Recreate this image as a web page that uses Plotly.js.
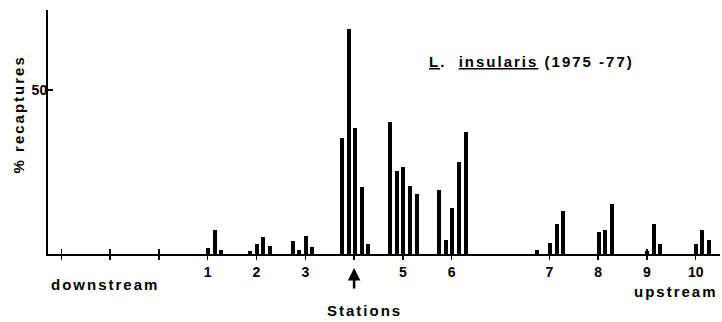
<!DOCTYPE html>
<html>
<head>
<meta charset="utf-8">
<script src="https://cdn.plot.ly/plotly-3.0.1.min.js"></script>
<style>
  html, body { margin: 0; padding: 0; background: #fff; }
  #chart { width: 722px; height: 322px; }
  #chart .annotation-text { letter-spacing: 2px; }
</style>
</head>
<body>
<div id="chart"></div>
<script>
// Axis positions of the stations (gap between station 6 and 7)
const tickPositions = [-2, -1, 0, 1, 2, 3, 4, 5, 6, 8, 9, 10, 11];
const tickLabels    = ['', '', '', '1', '2', '3', '', '5', '6', '7', '8', '9', '10'];

// Recapture bars: position along the stream axis and % recaptures
const barX = [
  1.000, 1.150, 1.273,
  1.867, 2.010, 2.139, 2.277,
  2.742, 2.877, 3.008, 3.143,
  3.746, 3.895, 4.018, 4.156, 4.279,
  4.742, 4.873, 5.008, 5.145, 5.283,
  5.740, 5.877, 6.012, 6.150, 6.293,
  7.742, 8.014, 8.152, 8.287,
  9.018, 9.148, 9.291,
  10.002, 10.145, 10.275,
  11.000, 11.135, 11.273
];
const barY = [
  1.9, 7.2, 1.1,
  0.9, 3.1, 5.3, 2.3,
  3.9, 1.3, 5.4, 2.1,
  35.3, 68.5, 38.5, 20.3, 3.1,
  40.1, 25.4, 26.4, 20.8, 18.3,
  19.4, 4.4, 14.0, 28.0, 37.2,
  1.1, 3.4, 9.1, 13.0,
  6.6, 7.2, 15.1,
  1.0, 9.0, 3.0,
  3.0, 7.3, 4.2
];
const yTickVals = [50];
const yTickText = ['50'];
const releaseStation = 4;

const FONT = 'Liberation Sans, Arial, sans-serif';
const xRange = [-2.273, 11.498];

const traces = [
  {
    type: 'bar', x: barX, y: barY, width: 0.08,
    marker: { color: '#000', line: { width: 0 } },
    hoverinfo: 'skip', showlegend: false
  },
  {
    type: 'scatter', mode: 'markers', x: [0], y: [0], xaxis: 'x2', yaxis: 'y',
    marker: { opacity: 0 }, hoverinfo: 'skip', showlegend: false
  }
];

const layout = {
  width: 722, height: 322,
  margin: { l: 48, r: 2, t: 10, b: 68 },
  paper_bgcolor: '#fff', plot_bgcolor: '#fff',
  font: { family: FONT, color: '#000' },
  bargap: 0,
  xaxis: {
    range: xRange, showgrid: false, zeroline: false,
    showline: true, linecolor: '#000', linewidth: 2,
    tickmode: 'array', tickvals: tickPositions, ticktext: tickLabels,
    ticks: 'outside', ticklen: 4, tickwidth: 1.5, tickcolor: '#000',
    tickfont: { family: FONT, size: 14, weight: 'bold', color: '#000' }
  },
  xaxis2: {
    overlaying: 'x', anchor: 'y', side: 'bottom',
    range: xRange, showgrid: false, zeroline: false, showline: false,
    tickmode: 'array', tickvals: tickPositions, showticklabels: false,
    ticks: 'inside', ticklen: 5, tickwidth: 1.5, tickcolor: '#000'
  },
  yaxis: {
    range: [0, 74.4], showgrid: false, zeroline: false,
    showline: true, linecolor: '#000', linewidth: 2,
    tickmode: 'array', tickvals: yTickVals, ticktext: yTickText,
    ticks: 'inside', ticklen: 5, tickwidth: 1.5, tickcolor: '#000',
    ticklabelstandoff: -4,
    tickfont: { family: FONT, size: 14, weight: 'bold', color: '#000' }
  },
  annotations: [
    {
      xref: 'paper', yref: 'paper', x: -0.0446, y: 0.572,
      text: '% recaptures', textangle: -90, showarrow: false,
      xanchor: 'center', yanchor: 'middle',
      font: { family: FONT, size: 15, weight: 'bold', color: '#000' }
    },
    {
      xref: 'paper', yref: 'paper', x: 0.719, y: 0.787,
      text: '<u>L</u>.  <u>insularis</u> (1975 -77)', showarrow: false,
      xanchor: 'center', yanchor: 'middle',
      font: { family: FONT, size: 15, weight: 'bold', color: '#000' }
    },
    {
      xref: 'paper', yref: 'paper', x: 0.0848, y: -0.123,
      text: 'downstream', showarrow: false, xanchor: 'center', yanchor: 'middle',
      font: { family: FONT, size: 15, weight: 'bold', color: '#000' }
    },
    {
      xref: 'paper', yref: 'paper', x: 0.9345, y: -0.152,
      text: 'upstream', showarrow: false, xanchor: 'center', yanchor: 'middle',
      borderpad: 0,
      font: { family: FONT, size: 15, weight: 'bold', color: '#000' }
    },
    {
      xref: 'paper', yref: 'paper', x: 0.4717, y: -0.2336,
      text: 'Stations', showarrow: false, xanchor: 'center', yanchor: 'middle',
      font: { family: FONT, size: 15, weight: 'bold', color: '#000' }
    },
    {
      xref: 'x', yref: 'paper', x: releaseStation, y: -0.0574,
      text: '', showarrow: true, ax: 0, ay: 22,
      arrowhead: 2, arrowsize: 1, arrowwidth: 2.5, arrowcolor: '#000', standoff: 0
    }
  ]
};

Plotly.newPlot('chart', traces, layout, { displayModeBar: false, staticPlot: true });
</script>
</body>
</html>
